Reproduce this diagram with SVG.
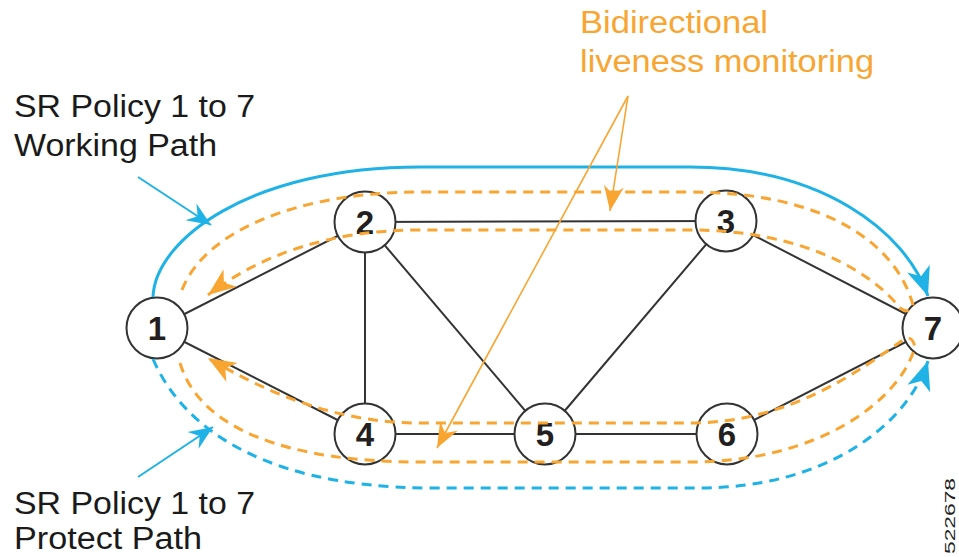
<svg xmlns="http://www.w3.org/2000/svg" width="959" height="557" viewBox="0 0 959 557">
<style>
.edge{stroke:#333;stroke-width:2;fill:none}
.node circle{fill:#fff;stroke:#333;stroke-width:2}
.node text{font-family:"Liberation Sans",Arial,sans-serif;font-weight:bold;font-size:33px;fill:#231f20;text-anchor:middle}
.lbl{font-family:"Liberation Sans",Arial,sans-serif;font-size:31px;fill:#1a1a1a}
.olbl{font-family:"Liberation Sans",Arial,sans-serif;font-size:31px;fill:#f8a531}
.blue{stroke:#1eb2e6;stroke-width:3;fill:none}
.bdash{stroke:#1eb2e6;stroke-width:3;fill:none;stroke-dasharray:10 7}
.odash{stroke:#f8a531;stroke-width:3;fill:none;stroke-dasharray:10 7}
.oann{stroke:#f8a531;stroke-width:1.6;fill:none}
.bann{stroke:#1eb2e6;stroke-width:2;fill:none}
</style>
<defs>
<marker id="ab" viewBox="-30 -13 32 26" markerWidth="32" markerHeight="26" refX="0" refY="0" orient="auto" markerUnits="userSpaceOnUse">
<path d="M0,0 L-29,-12 L-21,0 L-29,12 Z" fill="#1eb2e6"/>
</marker>
<marker id="ao" viewBox="-30 -13 32 26" markerWidth="32" markerHeight="26" refX="0" refY="0" orient="auto" markerUnits="userSpaceOnUse">
<path d="M0,0 L-28,-11 L-20,0 L-28,11 Z" fill="#f8a531"/>
</marker>
<marker id="aos" viewBox="-26 -12 28 24" markerWidth="28" markerHeight="24" refX="0" refY="0" orient="auto" markerUnits="userSpaceOnUse">
<path d="M0,0 L-25,-10 L-17,0 L-25,10 Z" fill="#f8a531"/>
</marker>
<marker id="abs" viewBox="-26 -12 28 24" markerWidth="28" markerHeight="24" refX="0" refY="0" orient="auto" markerUnits="userSpaceOnUse">
<path d="M0,0 L-24,-10 L-16,0 L-24,10 Z" fill="#1eb2e6"/>
</marker>
</defs>
<rect width="959" height="557" fill="#fff"/>
<g id="edges">
<line class="edge" x1="157" y1="328" x2="365" y2="222"/>
<line class="edge" x1="157" y1="328" x2="365" y2="434"/>
<line class="edge" x1="365" y1="222" x2="726" y2="221"/>
<line class="edge" x1="365" y1="222" x2="365" y2="434"/>
<line class="edge" x1="365" y1="222" x2="545" y2="434"/>
<line class="edge" x1="726" y1="221" x2="545" y2="434"/>
<line class="edge" x1="726" y1="221" x2="933" y2="328"/>
<line class="edge" x1="365" y1="434" x2="545" y2="434"/>
<line class="edge" x1="545" y1="434" x2="727" y2="434"/>
<line class="edge" x1="727" y1="434" x2="933" y2="328"/>
</g>
<g id="node1" class="node"><circle cx="157" cy="328" r="30.5"/><text x="157" y="340">1</text></g>
<g id="node2" class="node"><circle cx="365" cy="222" r="30.5"/><text x="365" y="234">2</text></g>
<g id="node3" class="node"><circle cx="726" cy="221" r="30.5"/><text x="726" y="233">3</text></g>
<g id="node4" class="node"><circle cx="365" cy="434" r="30.5"/><text x="365" y="446">4</text></g>
<g id="node5" class="node"><circle cx="545" cy="434" r="30.5"/><text x="545" y="446">5</text></g>
<g id="node6" class="node"><circle cx="727" cy="434" r="30.5"/><text x="727" y="446">6</text></g>
<g id="node7" class="node"><circle cx="933" cy="328" r="30.5"/><text x="933" y="340">7</text></g>
<g id="connectors">
<path class="blue" d="M153,297 C155,240 250,167 420,167 L690,167 C820,167 905,230 928,296" marker-end="url(#ab)"/>
<path class="bdash" d="M153,359 C175,410 240,488 433,488 L700,488 C820,488 905,430 928,361" marker-end="url(#ab)"/>
<path class="odash" d="M182,290 C205,230 300,192 420,192 L690,192 C820,192 895,240 913,305 C912,312 905,312 900,308 C870,270 800,230 690,230 L420,230 C330,230 260,255 208,295" marker-end="url(#ao)"/>
<path class="odash" d="M180,363 C200,430 290,462 420,462 L690,462 C820,462 900,400 915,347 C913,338 908,336 903,340 C860,370 790,423 690,423 L420,423 C340,423 270,395 208,358" marker-end="url(#ao)"/>
<path class="oann" d="M628,96 L610,211" marker-end="url(#aos)"/>
<path class="oann" d="M628,96 L437,448" marker-end="url(#aos)"/>
<path class="bann" d="M138,177 L211,225" marker-end="url(#abs)"/>
<path class="bann" d="M138,477 L213,427" marker-end="url(#abs)"/>
</g>
<g id="labels">
<text class="lbl" x="14" y="117" textLength="241" lengthAdjust="spacingAndGlyphs">SR Policy 1 to 7</text>
<text class="lbl" x="14" y="156" textLength="203" lengthAdjust="spacingAndGlyphs">Working Path</text>
<text class="lbl" x="14" y="514" textLength="241" lengthAdjust="spacingAndGlyphs">SR Policy 1 to 7</text>
<text class="lbl" x="14" y="549" textLength="188" lengthAdjust="spacingAndGlyphs">Protect Path</text>
<text class="olbl" x="580" y="33" textLength="188" lengthAdjust="spacingAndGlyphs">Bidirectional</text>
<text class="olbl" x="580" y="72" textLength="294" lengthAdjust="spacingAndGlyphs">liveness monitoring</text>
<text transform="translate(955,554) rotate(-90)" font-family="'Liberation Sans',Arial,sans-serif" font-size="14" fill="#222" textLength="76" lengthAdjust="spacingAndGlyphs">522678</text>
</g>
</svg>
